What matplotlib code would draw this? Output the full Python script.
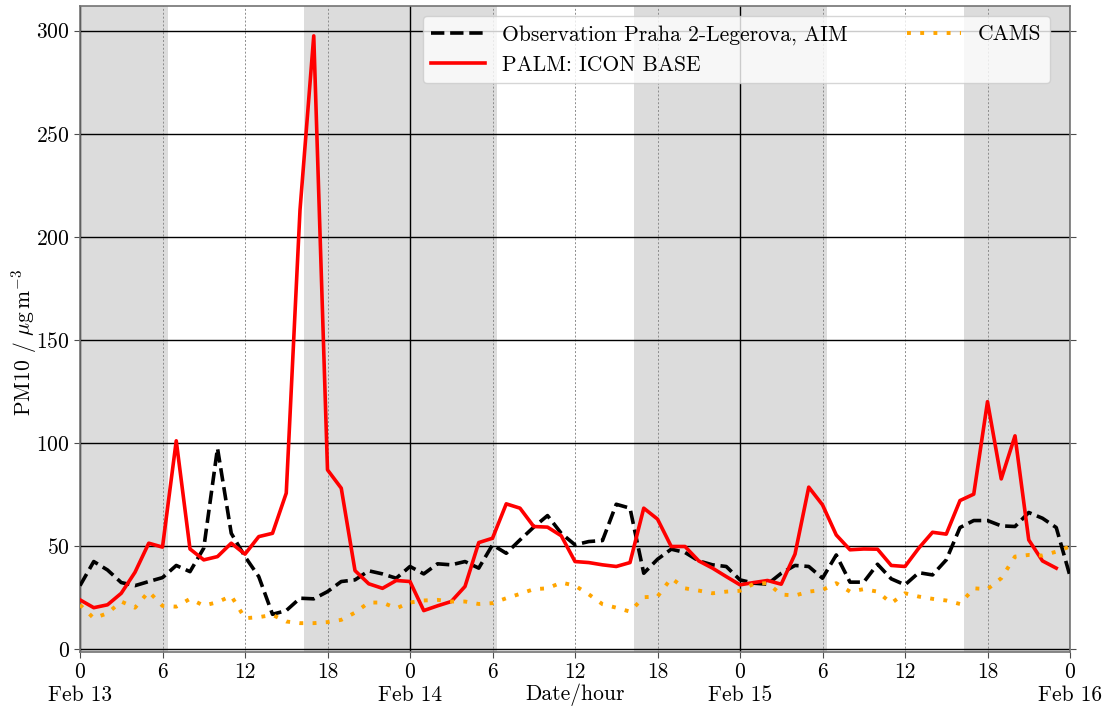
import numpy as np
import matplotlib
matplotlib.use("Agg")
import matplotlib.pyplot as plt

plt.rcParams['font.family'] = 'serif'
plt.rcParams['font.serif'] = ['cmr10']
plt.rcParams['mathtext.fontset'] = 'cm'
plt.rcParams['axes.formatter.use_mathtext'] = True
plt.rcParams['font.size'] = 15.5

# hours since Feb 13 00:00
obs_hours = list(range(0, 73))
obs = [30.7, 42.4, 38.3, 32.2, 30.7, 32.7, 34.6, 40.5, 37.5, 48.9,
       97.4, 56.1, 44.8, 35.1, 16.8, 18.6, 24.6, 24.3, 27.8, 32.7,
       33.5, 37.9, 36.4, 34.3, 40.0, 36.4, 41.3, 40.8, 42.4, 39.2,
       50.5, 46.4, 52.9, 59.1, 64.7, 56.1, 50.5, 52.1, 52.6, 70.2,
       68.3, 36.7, 43.5, 48.4, 46.8, 42.7, 40.8, 40.0, 33.5, 31.9,
       31.4, 36.7, 40.5, 40.0, 34.3, 45.6, 32.4, 32.4, 41.1, 34.0,
       31.1, 37.0, 35.9, 43.2, 58.9, 62.3, 62.3, 59.7, 59.4, 66.2,
       63.4, 58.9, 35.4]

palm_hours = list(range(0, 72))
palm = [23.8, 20.0, 21.4, 27.0, 37.2, 51.3, 49.4, 101.0, 48.5, 43.2,
        44.8, 51.3, 46.0, 54.5, 56.1, 75.6, 213.0, 297.5, 86.9, 78.0,
        38.0, 31.6, 29.4, 33.2, 32.7, 18.6, 20.9, 23.0, 30.3, 51.6,
        53.7, 70.4, 68.3, 59.4, 59.1, 54.9, 42.4, 41.9, 40.8, 40.0,
        41.9, 68.3, 63.0, 49.7, 49.7, 42.7, 39.2, 35.1, 31.1, 32.2,
        33.2, 31.4, 46.0, 78.5, 69.9, 55.3, 48.1, 48.5, 48.4, 40.5,
        40.0, 48.9, 56.6, 55.7, 72.0, 75.1, 120.0, 82.5, 103.4, 52.9,
        42.7, 39.2]

cams_hours = list(range(0, 73))
cams = [21.4, 14.9, 17.3, 23.0, 20.0, 27.8, 20.9, 20.5, 24.3, 21.0,
        22.7, 25.7, 14.9, 15.4, 16.5, 13.3, 12.5, 12.5, 13.0, 14.1,
        17.6, 22.5, 22.5, 19.7, 22.5, 23.5, 23.8, 23.0, 23.0, 21.8,
        22.2, 24.6, 26.7, 29.0, 29.4, 32.2, 30.7, 26.5, 21.7, 20.0,
        18.1, 25.1, 25.4, 34.3, 29.4, 28.3, 27.0, 27.8, 28.2, 31.6,
        31.9, 26.4, 25.9, 27.8, 28.6, 31.9, 27.8, 29.0, 27.8, 22.2,
        27.0, 25.4, 24.3, 23.5, 21.8, 29.4, 29.0, 34.3, 44.8, 45.6,
        45.3, 47.2, 49.7]

night_start = [0.0, 16.3, 40.3, 64.3]
night_end = [6.4, 30.3, 54.3, 72.0]

xtick_pos = list(range(0, 73, 6))
xtick_labels = [str(h % 24) for h in xtick_pos]
day_pos = [0, 24, 48, 72]
day_labels = ['Feb 13', 'Feb 14', 'Feb 15', 'Feb 16']
yticks = [0, 50, 100, 150, 200, 250, 300]

fig = plt.figure(figsize=(11.03, 7.07), dpi=100)
ax = fig.add_axes([80/1103, 1-652/707, 990/1103, 646/707])

for s, e in zip(night_start, night_end):
    ax.axvspan(s, e, color='#dcdcdc', lw=0, zorder=0)

for h in xtick_pos:
    if h % 24 == 0:
        ax.axvline(h, color='black', lw=1.0, zorder=1)
    else:
        ax.axvline(h, color='0.55', lw=0.7, ls=(0, (2, 2)), zorder=1)
for y in yticks:
    ax.axhline(y, color='black', lw=1.0, zorder=1)

ax.plot(obs_hours, obs, color='black', lw=2.6, ls='--',
        label='Observation Praha 2-Legerova, AIM', zorder=3)
ax.plot(palm_hours, palm, color='red', lw=2.6, ls='-',
        label='PALM: ICON BASE', zorder=3)
ax.plot(cams_hours, cams, color='orange', lw=2.8, ls=(0, (1, 2.4)),
        label='CAMS', zorder=3)

ax.set_xlim(0, 72)
ax.set_ylim(-1.5, 312)
ax.set_xticks(xtick_pos)
ax.set_xticklabels(xtick_labels)
ax.set_yticks(yticks)
ax.tick_params(axis='both', direction='out', length=4, color='0.3', right=True)

for d, lab in zip(day_pos, day_labels):
    ax.annotate(lab, xy=(d, 0), xycoords=('data', 'axes fraction'),
                xytext=(0, -31), textcoords='offset points',
                ha='center', va='center')

ax.set_xlabel('Date/hour', labelpad=1)
ax.set_ylabel(r'PM10 / $\mu\mathrm{g\,m^{-3}}$')
ax.yaxis.set_label_coords(-0.041, 0.48)

for sp in ax.spines.values():
    sp.set_color('0.45')
    sp.set_linewidth(1.2)

ax.legend(loc='upper left', ncol=2, mode='expand',
          bbox_to_anchor=(0.346, 0.5, 0.634, 0.4845), borderaxespad=0,
          handlelength=2.5, framealpha=0.8)

fig.savefig('out.png', dpi=100)
